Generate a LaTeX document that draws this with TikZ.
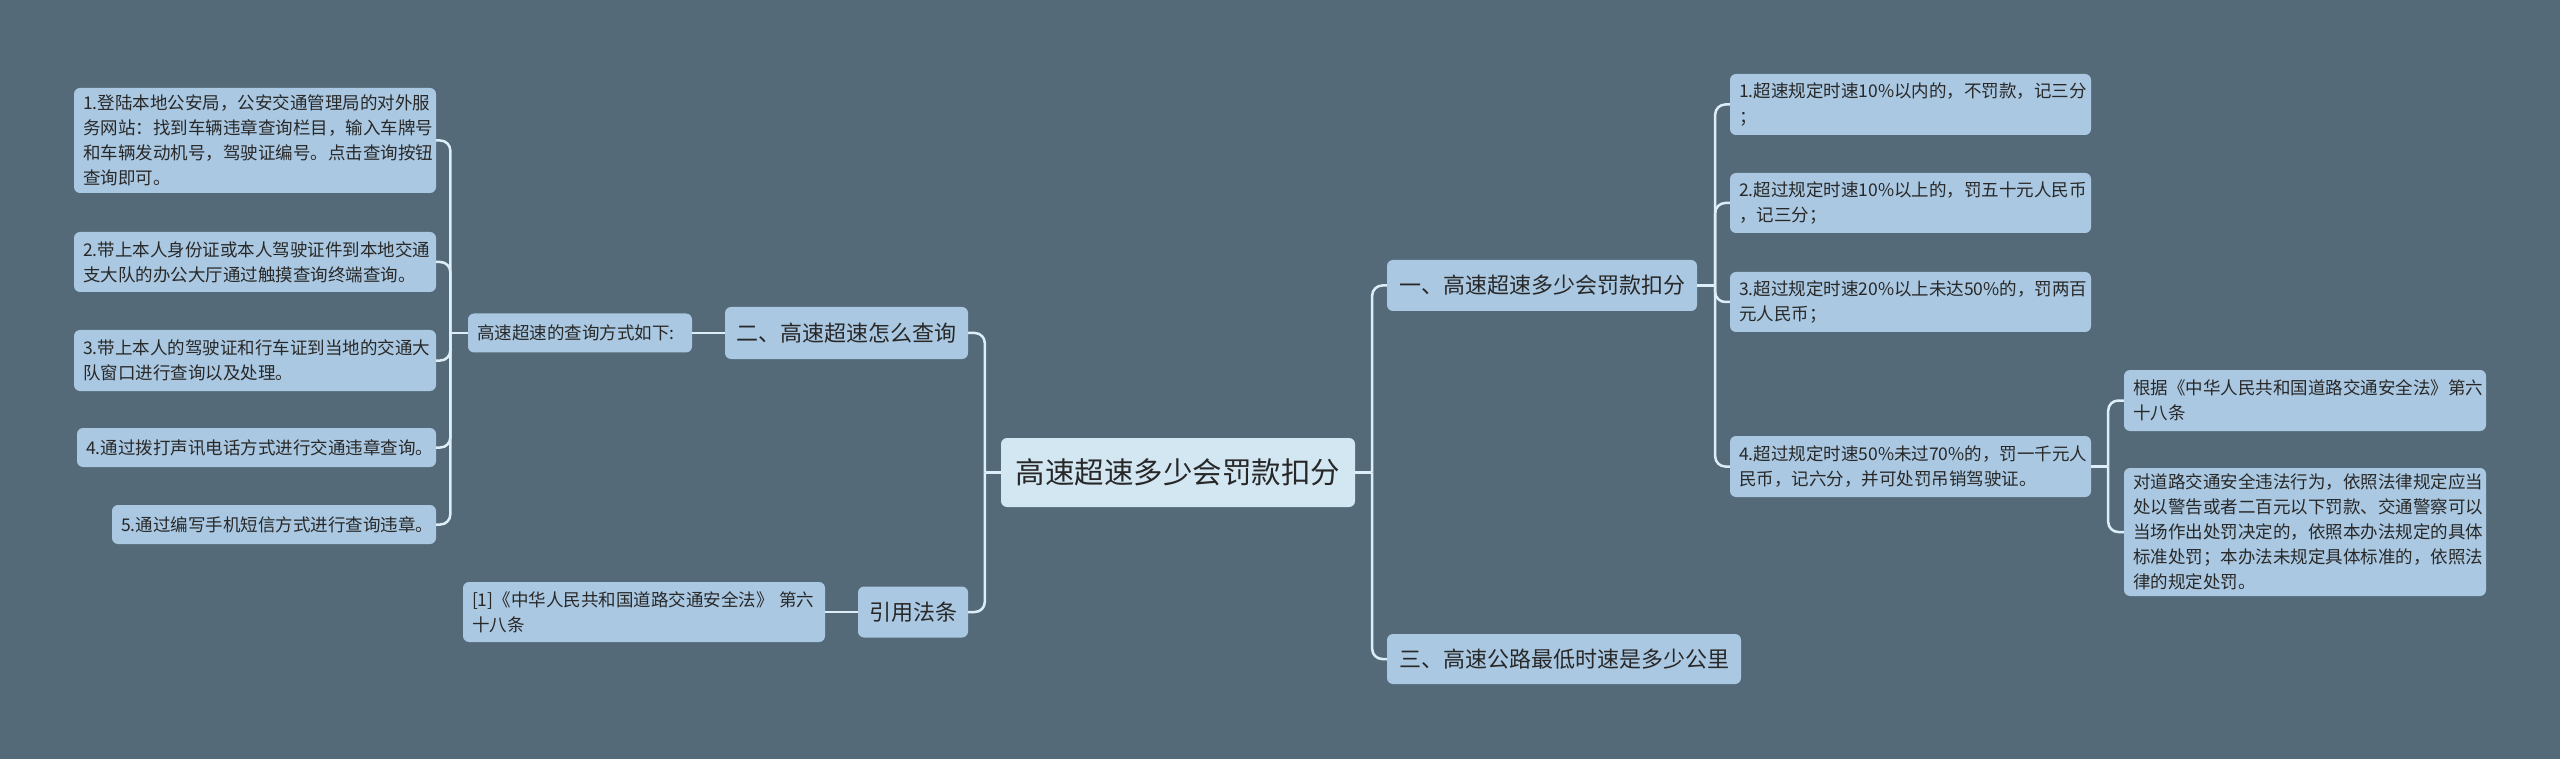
\documentclass[tikz,border=0pt]{standalone}
\usepackage{fontspec}
\setmainfont{Noto Sans CJK SC}
\usetikzlibrary{calc}
\definecolor{bg}{RGB}{84,106,121}
\definecolor{boxc}{RGB}{170,200,225}
\definecolor{rootc}{RGB}{211,231,243}
\definecolor{linec}{RGB}{222,238,248}
\definecolor{txt}{RGB}{40,40,40}
\begin{document}
\begin{tikzpicture}[x=1pt,y=-1pt,
  box/.style={fill=boxc, rounded corners=6pt, text=txt, inner ysep=0pt},
  leaf/.style={box, font=\fontsize{17.5}{25}\selectfont, align=left, inner xsep=9pt},
  mainn/.style={box, font=\fontsize{22}{27}\selectfont, inner xsep=0pt},
  rootn/.style={box, fill=rootc, font=\fontsize{29.5}{34}\selectfont, inner xsep=0pt},
  conn/.style={draw=linec, line width=2.5pt, rounded corners=10pt}]
\fill[bg] (0,0) rectangle (2560,759);
\useasboundingbox (0,0) rectangle (2560,759);

% root
\node[rootn, minimum width=354pt, minimum height=69pt] (root) at (1178,472.5) {高速超速多少会罚款扣分};

% main branches
\node[mainn, minimum width=310pt, minimum height=51pt] (n1) at (1542,285.5) {一、高速超速多少会罚款扣分};
\node[mainn, minimum width=354pt, minimum height=50pt] (n3) at (1564,659) {三、高速公路最低时速是多少公里};
\node[mainn, minimum width=243pt, minimum height=52pt] (n2) at (846.5,333) {二、高速超速怎么查询};
\node[mainn, minimum width=110pt, minimum height=51pt] (nref) at (913,612) {引用法条};

% left side
\node[leaf, text width=206pt, minimum height=39pt] (q) at (580,333) {高速超速的查询方式如下:};
\node[leaf, text width=344pt, minimum height=60pt] (refleaf) at (644,612) {[1]《中华人民共和国道路交通安全法》~第六\\十八条};

\node[leaf, text width=344pt, minimum height=105pt] (L1) at (255,140.5) {1.登陆本地公安局，公安交通管理局的对外服\\务网站：找到车辆违章查询栏目，输入车牌号\\和车辆发动机号，驾驶证编号。点击查询按钮\\查询即可。};
\node[leaf, text width=344pt, minimum height=60pt] (L2) at (255,262) {2.带上本人身份证或本人驾驶证件到本地交通\\支大队的办公大厅通过触摸查询终端查询。};
\node[leaf, text width=344pt, minimum height=61pt] (L3) at (255,360.5) {3.带上本人的驾驶证和行车证到当地的交通大\\队窗口进行查询以及处理。};
\node[leaf, text width=341pt, minimum height=39pt] (L4) at (256.5,447.5) {4.通过拨打声讯电话方式进行交通违章查询。};
\node[leaf, text width=306pt, minimum height=39pt] (L5) at (274,524.5) {5.通过编写手机短信方式进行查询违章。};

% right side
\node[leaf, text width=343pt, minimum height=61pt] (R1) at (1910.5,104.5) {1.超速规定时速10\%以内的，不罚款，记三分\\；};
\node[leaf, text width=343pt, minimum height=60pt] (R2) at (1910.5,203) {2.超过规定时速10\%以上的，罚五十元人民币\\，记三分；};
\node[leaf, text width=343pt, minimum height=60pt] (R3) at (1910.5,302) {3.超过规定时速20\%以上未达50\%的，罚两百\\元人民币；};
\node[leaf, text width=343pt, minimum height=61pt] (R4) at (1910.5,466.5) {4.超过规定时速50\%未过70\%的，罚一千元人\\民币，记六分，并可处罚吊销驾驶证。};
\node[leaf, text width=344pt, minimum height=61pt] (R4a) at (2305,400.5) {根据《中华人民共和国道路交通安全法》第六\\十八条};
\node[leaf, text width=344pt, minimum height=128pt] (R4b) at (2305,532) {对道路交通安全违法行为，依照法律规定应当\\处以警告或者二百元以下罚款、交通警察可以\\当场作出处罚决定的，依照本办法规定的具体\\标准处罚；本办法未规定具体标准的，依照法\\律的规定处罚。};

% connectors: root right
\coordinate (jr) at ($(root.east)+(17,0)$);
\draw[conn] (root.east) -- (jr);
\draw[conn] (jr) |- (n1.west);
\draw[conn] (jr) |- (n3.west);
% root left
\coordinate (jl) at ($(root.west)+(-16,0)$);
\draw[conn] (root.west) -- (jl);
\draw[conn] (jl) |- (n2.east);
\draw[conn] (jl) |- (nref.east);
% n1 children
\coordinate (j1) at ($(n1.east)+(18,0)$);
\draw[conn] (n1.east) -- (j1);
\foreach \c in {R1,R2,R3,R4} \draw[conn] (j1) |- (\c.west);
% R4 children
\coordinate (j4) at ($(R4.east)+(17,0)$);
\draw[conn] (R4.east) -- (j4);
\draw[conn] (j4) |- (R4a.west);
\draw[conn] (j4) |- (R4b.west);
% n2 -> q
\draw[conn] (n2.west) -- (q.east);
\coordinate (jq) at ($(q.west)+(-17.5,0)$);
\draw[conn] (q.west) -- (jq);
\foreach \c in {L1,L2,L3,L4,L5} \draw[conn] (jq) |- (\c.east);
% ref
\draw[conn] (nref.west) -- (refleaf.east);
\end{tikzpicture}
\end{document}
